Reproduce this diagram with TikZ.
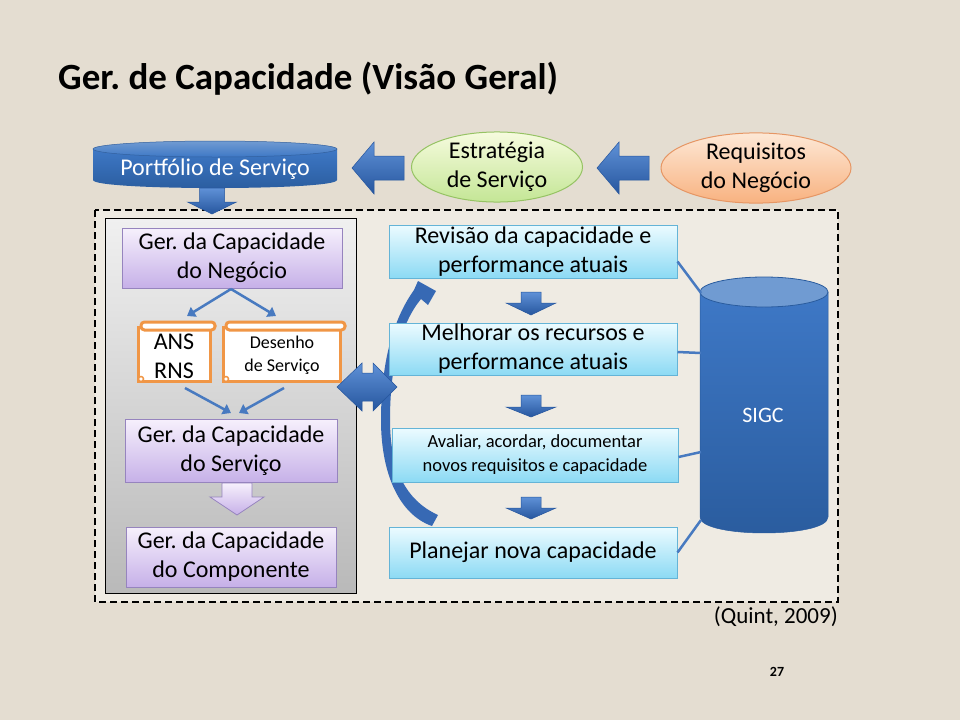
\documentclass[tikz,border=0pt]{standalone}
\usepackage{fontspec}
\setmainfont{Carlito}
\usetikzlibrary{shapes.geometric,arrows.meta,calc}
\definecolor{bgc}{RGB}{228,221,209}
\definecolor{innerc}{RGB}{239,235,227}
\definecolor{bluetop}{RGB}{95,145,215}
\definecolor{bluebot}{RGB}{38,86,158}
\definecolor{bluemid}{RGB}{55,105,180}
\definecolor{blueline}{RGB}{72,122,192}
\definecolor{ptop}{RGB}{246,240,252}
\definecolor{pbot}{RGB}{198,176,232}
\definecolor{pborder}{RGB}{150,132,190}
\definecolor{ctop}{RGB}{236,251,255}
\definecolor{cbot}{RGB}{140,218,244}
\definecolor{cborder}{RGB}{100,180,215}
\definecolor{gtop}{RGB}{246,251,222}
\definecolor{gbot}{RGB}{196,230,150}
\definecolor{gborder}{RGB}{150,195,100}
\definecolor{otop}{RGB}{253,232,214}
\definecolor{obot}{RGB}{248,178,128}
\definecolor{oborder}{RGB}{230,150,100}
\definecolor{scrollc}{RGB}{240,150,70}
\definecolor{graytop}{RGB}{240,240,240}
\definecolor{graybot}{RGB}{185,185,185}
\definecolor{cyltop}{RGB}{112,155,210}
\definecolor{cylbody1}{RGB}{62,120,198}
\definecolor{cylbody2}{RGB}{42,92,158}
\tikzset{
  txt/.style={font=\fontsize{24}{29}\selectfont, align=center, inner sep=0},
  pbox/.style={txt, draw=pborder, line width=1, top color=ptop, bottom color=pbot},
  cbox/.style={txt, draw=cborder, line width=1, top color=ctop, bottom color=cbot},
  blockarrow/.style={top color=bluetop, bottom color=bluebot, draw=bluebot, line width=0.5},
  purplearrow/.style={top color=ptop, bottom color=pbot, draw=pborder, line width=0.8},
  thinarrow/.style={draw=blueline, line width=2.5, -{Triangle[length=8,width=11]}},
  link/.style={draw=blueline, line width=2.5},
  scrollline/.style={draw=scrollc, line width=3, fill=white},
}
\newcommand\ScrollAt[4]{%
  \draw[scrollline] (#1,#2+5) rectangle (#3-5,#4-2);
  \draw[scrollline, rounded corners=3.5] (#1+3,#2) rectangle (#3,#2+8);
  \draw[draw=scrollc, line width=1.5, fill=white] (#1+3,#4-4) circle (2.5);
}
\newcommand\BlkDown[7]{% cx, ytop, yhead, ytip, stemhalf, headhalf, style
  \path[#7] (#1-#5,#2) -- (#1+#5,#2) -- (#1+#5,#3) -- (#1+#6,#3) -- (#1,#4)
     -- (#1-#6,#3) -- (#1-#5,#3) -- cycle;
}
\newcommand\BlkLeft[6]{% xtip, cy, xhead, xend, stemhalf, headhalf
  \path[blockarrow] (#1,#2) -- (#3,#2-#6) -- (#3,#2-#5) -- (#4,#2-#5) -- (#4,#2+#5)
     -- (#3,#2+#5) -- (#3,#2+#6) -- cycle;
}
\begin{document}
\begin{tikzpicture}[x=1pt,y=-1pt]
\useasboundingbox (0,0) rectangle (960,720);
\fill[bgc] (0,0) rectangle (960,720);

% title
\node[anchor=base west, inner sep=0, font=\fontsize{37}{40}\selectfont\bfseries] (title) at (58,89) {Ger.\ de Capacidade (Visão Geral)};

% Portfolio
\path[top color=cylbody1, bottom color=cylbody2] (93,149) -- (93,180) .. controls (93,190.7) and (337,190.7) .. (337,180) -- (337,149) -- cycle;
\path[top color=cyltop, bottom color=cylbody1, draw=cylbody1!80!black, line width=0.5] (215,149) ellipse [x radius=122, y radius=8];
\node[txt, text=white] (portf) at (215,169) {Portfólio de Serviço};

% top arrows
\BlkLeft{352}{168}{374}{404}{12}{26}
\BlkLeft{597}{168}{619}{649}{12}{26}

% ellipses
\node[ellipse, txt, draw=gborder, line width=1, top color=gtop, bottom color=gbot, minimum width=171, minimum height=64] (estr) at (497,167) {Estratégia\\de Serviço};
\node[ellipse, txt, draw=oborder, line width=1, top color=otop, bottom color=obot, minimum width=190, minimum height=66] (req) at (756,168) {Requisitos\\do Negócio};

% dashed frame
\draw[fill=innerc, line width=2.5, dash pattern=on 7pt off 4pt] (95,210) rectangle (838,602);

% down arrow from portfolio
\BlkDown{212}{188}{202}{214}{12.5}{24.5}{blockarrow}

% gray panel
\draw[black, line width=0.8, top color=graytop, bottom color=graybot] (105,218) rectangle (356,593);

% purple boxes
\node[pbox, minimum width=220, minimum height=60] (neg) at (232,258) {Ger.\ da Capacidade\\do Negócio};
\node[pbox, minimum width=212, minimum height=63] (serv) at (231,451) {Ger.\ da Capacidade\\do Serviço};
\node[pbox, minimum width=210, minimum height=60] (comp) at (231,557) {Ger.\ da Capacidade\\do Componente};

% scrolls
\ScrollAt{138}{322}{215}{383}
\ScrollAt{223}{322}{345}{383}
\node[txt] (ans) at (174,356) {ANS\\RNS};
\node[txt, font=\fontsize{18}{23}\selectfont] (des) at (282,355) {Desenho\\de Serviço};

% thin arrows
\coordinate (n1) at (231,289);
\coordinate (a1) at (187,316);
\coordinate (a2) at (276,316);
\draw[thinarrow] (n1) -- (a1);
\draw[thinarrow] (n1) -- (a2);
\coordinate (b1) at (185,388);
\coordinate (b2) at (284,388);
\coordinate (s1) at (231,413);
\coordinate (s2) at (239,413);
\draw[thinarrow] (b1) -- (s1);
\draw[thinarrow] (b2) -- (s2);

% purple block arrow
\BlkDown{237}{483}{497}{515}{15}{27}{purplearrow}

% curved arrow
\path[fill=bluemid] (432,526) .. controls (400,515) and (381,475) .. (381,420)
  .. controls (381,360) and (394,318) .. (414,290) -- (418,281) -- (436,291) -- (428,305)
  -- (421,299) .. controls (402,322) and (390,362) .. (390,420)
  .. controls (390,468) and (405,500) .. (438,515) -- cycle;

% double arrow
\path[blockarrow] (337,387) -- (362,363) -- (362,373) -- (373,373) -- (373,363) -- (397,387)
  -- (373,411) -- (373,401) -- (362,401) -- (362,411) -- cycle;

% cyan boxes
\node[cbox, minimum width=288, minimum height=53] (rev) at (533,251.5) {Revisão da capacidade e\\performance atuais};
\node[cbox, minimum width=288, minimum height=52] (mel) at (533,349) {Melhorar os recursos e\\performance atuais};
\node[cbox, minimum width=286, minimum height=54, font=\fontsize{18.5}{24}\selectfont] (ava) at (535,455) {Avaliar, acordar, documentar\\novos requisitos e capacidade};
\node[cbox, minimum width=288, minimum height=51] (plan) at (533,552.5) {Planejar nova capacidade};

% small down arrows
\BlkDown{531}{292}{303}{315}{10}{25}{blockarrow}
\BlkDown{531}{395}{407}{417}{10}{25}{blockarrow}
\BlkDown{531}{497}{508}{519}{10}{25}{blockarrow}

% SIGC cylinder
\path[top color=cylbody1, bottom color=cylbody2, draw=cylbody2, line width=0.5] (700,292) -- (700,517) .. controls (700,538.3) and (828,538.3) .. (828,517) -- (828,292) -- cycle;
\path[fill=cyltop, draw=cylbody2, line width=0.8] (764,292) ellipse [x radius=64, y radius=15];
\node[txt, text=white, font=\fontsize{22}{26}\selectfont] (sigc) at (763,415) {SIGC};
\coordinate (c1) at (701,293);
\coordinate (c2) at (701,353);
\coordinate (c3) at (701,452);
\coordinate (c4) at (701,520);
\draw[link] ($(rev.east)+(0,10)$) -- (c1);
\draw[link] ($(mel.east)+(0,3)$) -- (c2);
\draw[link] ($(ava.east)+(0,2)$) -- (c3);
\draw[link] (plan.east) -- (c4);

% citation and page
\node[anchor=base east, inner sep=0, font=\fontsize{23}{28}\selectfont] (cite) at (838,623) {(Quint, 2009)};
\node[inner sep=0, font=\fontsize{14}{16}\selectfont\bfseries] (pg) at (777,672) {27};
\end{tikzpicture}
\end{document}
